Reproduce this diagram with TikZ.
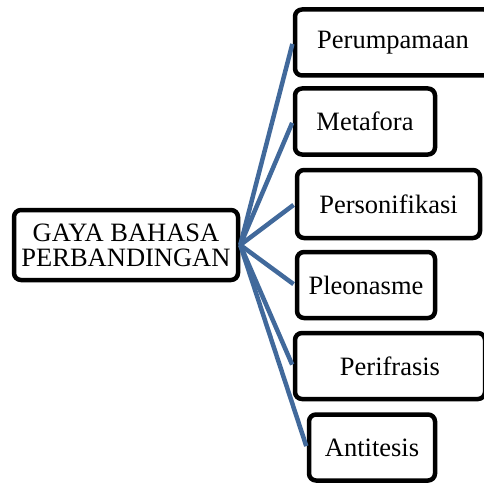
\documentclass[tikz,border=0pt]{standalone}
\usepackage{fontspec}
\setmainfont{Liberation Serif}
\usepackage{tikz}
\usepackage{xcolor}
\definecolor{linkblue}{RGB}{65,105,155}

\begin{document}
\begin{tikzpicture}[x=1pt, y=-1pt,
    every node/.style={font=\fontsize{26.5}{25}\selectfont},
    box/.style={draw, line width=4.5pt, rounded corners=7pt, fill=white, inner sep=0pt, minimum height=66pt, align=center},
    link/.style={linkblue, line width=4.5pt, shorten >=1.5pt}]

    \useasboundingbox (0,0) rectangle (483,484);

    % Main box
    \node[box, minimum width=224pt, minimum height=70pt] (main) at (126, 245) {GAYA BAHASA\\PERBANDINGAN};

    % Right column
    \node[box, minimum width=196pt] (B1) at (393, 42.5) {Perumpamaan};
    \node[box, minimum width=140pt] (B2) at (365, 121.5) {Metafora};
    \node[box, minimum width=183pt, minimum height=68pt] (B3) at (388.5, 204) {Personifikasi};
    \node[box, minimum width=138pt] (B4) at (366, 285) {Pleonasme};
    \node[box, minimum width=190pt] (B5) at (390, 366) {Perifrasis};
    \node[box, minimum width=126pt] (B6) at (372, 447.5) {Antitesis};

    % Draw links
    \foreach \b in {B1, B2, B3, B4, B5, B6} {
        \draw[link] (main.east) -- (\b.west);
    }

\end{tikzpicture}
\end{document}
